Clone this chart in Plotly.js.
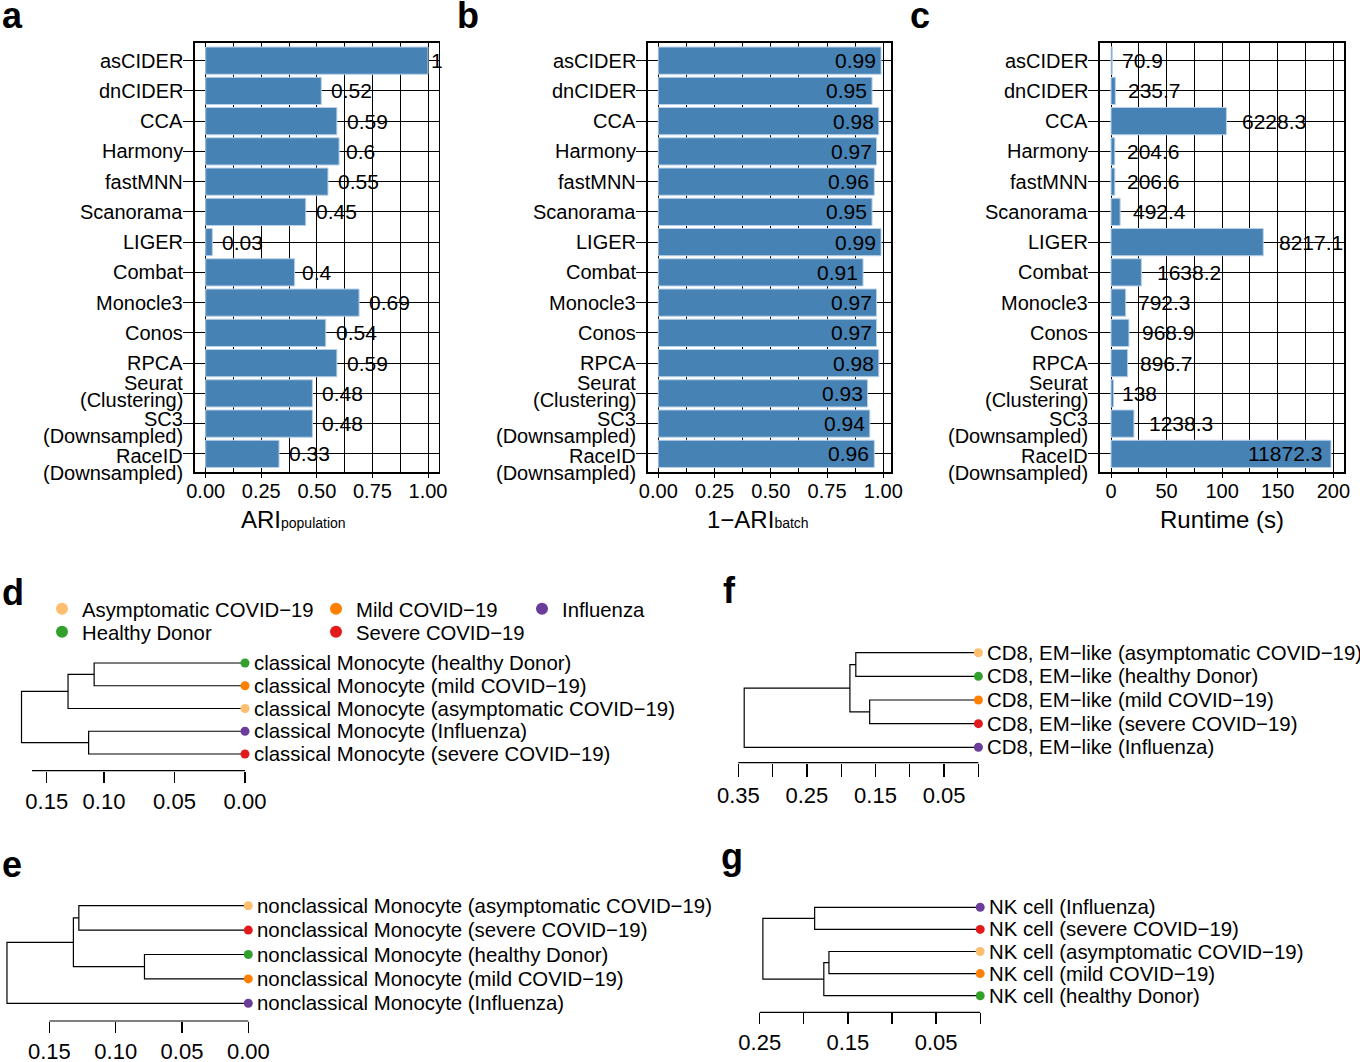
<!DOCTYPE html>
<html>
<head>
<meta charset="utf-8">
<script src="https://cdn.plot.ly/plotly-3.0.1.min.js"></script>
<style>html,body{margin:0;padding:0;background:#fff}#chart{width:1360px;height:1062px}</style>
</head>
<body>
<div id="chart"></div>
<script>
// ---------------- DATA ----------------
const methods = ['asCIDER','dnCIDER','CCA','Harmony','fastMNN','Scanorama','LIGER','Combat','Monocle3','Conos','RPCA','Seurat\n(Clustering)','SC3\n(Downsampled)','RaceID\n(Downsampled)'];
const ariPopulation = [1, 0.52, 0.59, 0.6, 0.55, 0.45, 0.03, 0.4, 0.69, 0.54, 0.59, 0.48, 0.48, 0.33];
const ariBatchComplement = [0.99, 0.95, 0.98, 0.97, 0.96, 0.95, 0.99, 0.91, 0.97, 0.97, 0.98, 0.93, 0.94, 0.96];
const runtimeLabels = ['70.9','235.7','6228.3','204.6','206.6','492.4','8217.1','1638.2','792.3','968.9','896.7','138','1238.3','11872.3'];
const runtimeBars = [1.18, 3.93, 103.81, 3.41, 3.44, 8.21, 136.95, 27.30, 13.21, 16.15, 14.95, 2.30, 20.64, 197.87];

const groups = ['Asymptomatic COVID\u221219','Mild COVID\u221219','Influenza','Healthy Donor','Severe COVID\u221219'];
const groupColors = ['#FDBF6F','#FF7F00','#6A3D9A','#33A02C','#E31A1C'];

// panel d
const dLeaves = ['classical Monocyte (healthy Donor)','classical Monocyte (mild COVID\u221219)','classical Monocyte (asymptomatic COVID\u221219)','classical Monocyte (Influenza)','classical Monocyte (severe COVID\u221219)'];
const dGroups = [3, 1, 0, 2, 4];
const dMerges = [['L0','L1',0.107],['M0','L2',0.1255],['L3','L4',0.1109],['M1','M2',0.1585]];
const dTicks = [0.1406, 0.10, 0.05, 0.00];
const dTickText = ['0.15','0.10','0.05','0.00'];
// panel e
const eLeaves = ['nonclassical Monocyte (asymptomatic COVID\u221219)','nonclassical Monocyte (severe COVID\u221219)','nonclassical Monocyte (healthy Donor)','nonclassical Monocyte (mild COVID\u221219)','nonclassical Monocyte (Influenza)'];
const eGroups = [0, 4, 3, 1, 2];
const eMerges = [['L0','L1',0.1278],['L2','L3',0.0783],['M0','M1',0.1319],['M2','L4',0.182]];
const eTicks = [0.15, 0.10, 0.05, 0.00];
const eTickText = ['0.15','0.10','0.05','0.00'];
// panel f
const fLeaves = ['CD8, EM\u2212like (asymptomatic COVID\u221219)','CD8, EM\u2212like (healthy Donor)','CD8, EM\u2212like (mild COVID\u221219)','CD8, EM\u2212like (severe COVID\u221219)','CD8, EM\u2212like (Influenza)'];
const fGroups = [0, 3, 1, 4, 2];
const fMerges = [['L0','L1',0.1787],['L2','L3',0.1585],['M0','M1',0.1873],['M2','L4',0.3414]];
const fTicks = [0.35, 0.30, 0.25, 0.20, 0.15, 0.10, 0.05, 0.00];
const fTickText = ['0.35','','0.25','','0.15','','0.05',''];
// panel g
const gLeaves = ['NK cell (Influenza)','NK cell (severe COVID\u221219)','NK cell (asymptomatic COVID\u221219)','NK cell (mild COVID\u221219)','NK cell (healthy Donor)'];
const gGroups = [2, 4, 0, 1, 3];
const gMerges = [['L0','L1',0.1877],['L2','L3',0.1715],['M1','L4',0.1773],['M0','M2',0.2464]];
const gTicks = [0.25, 0.20, 0.15, 0.10, 0.05, 0.00];
const gTickText = ['0.25','','0.15','','0.05',''];

// ---------------- STYLE / LAYOUT ----------------
const FONT = 'Liberation Sans, Arial, Helvetica, sans-serif';
const W = 1360, H = 1062;
const px = v => v / W;
const py = v => 1 - v / H;
const BAR = '#4682B4';

const methodKeys = methods.map(s => s.replace('\n', ' '));
const labelNudge = [0,0,0,0,0,0,0,0,0,0,0,-2,4,10.5];
const barTop = 42.5, barBottom = 472;

const barPanels = [
  {k:'', L:195, R:438.5, zero:205.7, unit:222.3, dtick:0.25, minor:0.125, fmt:'.2f', vals: ariPopulation, labels: ariPopulation.map(String), mode: () => 'out',
   title:'ARI<span style="font-size:14px">population</span>', titleX:239},
  {k:'2', L:647.7, R:891, zero:658.3, unit:225, dtick:0.25, minor:0.125, fmt:'.2f', vals: ariBatchComplement, labels: ariBatchComplement.map(v=>v.toFixed(2)), mode: () => 'in',
   title:'1\u2212ARI<span style="font-size:14px">batch</span>', titleX:705},
  {k:'3', L:1100, R:1344, zero:1111, unit:1.1117, dtick:50, minor:25, fmt:'d', vals: runtimeBars, labels: runtimeLabels,
   mode: (v) => v === Math.max(...runtimeBars) ? 'in' : 'out', title:'Runtime (s)', titleX:1158}
];

const dendros = [
  {k:'4', leaves:dLeaves, grp:dGroups, merges:dMerges, ticks:dTicks, tickText:dTickText, extent:0.1511, zero:245, unit:1410, L:8, R:252, leaf0:663, sp:22.75, axisY:770.7, top:645, ticklen:11},
  {k:'5', leaves:eLeaves, grp:eGroups, merges:eMerges, ticks:eTicks, tickText:eTickText, extent:0.15, zero:248.3, unit:1326, L:2, R:255, leaf0:905.7, sp:24.4, axisY:1021, top:885, ticklen:11},
  {k:'6', leaves:fLeaves, grp:fGroups, merges:fMerges, ticks:fTicks, tickText:fTickText, extent:0.35, zero:978.4, unit:686, L:730, R:985, leaf0:652.7, sp:23.65, axisY:762.7, top:635, ticklen:13},
  {k:'7', leaves:gLeaves, grp:gGroups, merges:gMerges, ticks:gTicks, tickText:gTickText, extent:0.25, zero:980.2, unit:882, L:750, R:985, leaf0:907.3, sp:22.1, axisY:1012.3, top:890, ticklen:10.5}
];

// legend positions (dot centre px) per group
const legendPos = [[63,609],[337,609],[543,609],[63,632],[337,632]];
const legendIds = ['legend','legend2','legend3','legend4','legend5'];

const panelLetters = [['a',0,15],['b',455,15],['c',908,15],['d',0,592],['e',0,864],['f',721,590],['g',719,856]];

// ---------------- BUILD ----------------
const traces = [];
const annotations = [];
const shapes = [];
const layout = {
  width: W, height: H, margin: {l:0, r:0, t:0, b:0}, autosize: false,
  paper_bgcolor: '#fff', plot_bgcolor: 'rgba(0,0,0,0)',
  font: {family: FONT, color: '#000', size: 20},
  showlegend: true, bargap: 0
};

function textWidth(s, size) {
  let w = 0;
  for (const c of s) w += (c === '.' ? 0.278 : 0.556);
  return w * size;
}

barPanels.forEach(p => {
  const xa = 'xaxis' + p.k, ya = 'yaxis' + p.k;
  const xr = 'x' + p.k, yr = 'y' + p.k;
  layout[xa] = {
    domain: [px(p.L), px(p.R)], anchor: yr,
    range: [(p.L - p.zero) / p.unit, (p.R - p.zero) / p.unit],
    tick0: 0, dtick: p.dtick, tickformat: p.fmt, ticks: 'outside', ticklen: 4, tickcolor: '#000', tickwidth: 1,
    ticklabelstandoff: -4,
    tickfont: {size: 20, family: FONT, color: '#000'},
    showgrid: true, gridcolor: '#000', gridwidth: 1,
    minor: {dtick: p.minor, tick0: 0, showgrid: true, gridcolor: '#000', gridwidth: 1, ticks: ''},
    zeroline: false, showline: true, mirror: true, linecolor: '#000', linewidth: 1.6, fixedrange: true
  };
  layout[ya] = {
    domain: [py(barBottom), py(barTop)], anchor: xr, type: 'category',
    categoryorder: 'array', categoryarray: methodKeys, range: [13.6, -0.6],
    showgrid: true, gridcolor: '#000', gridwidth: 1, ticks: 'outside', ticklen: 10, tickcolor: '#000',
    showticklabels: false, zeroline: false, showline: true, mirror: true, linecolor: '#000', linewidth: 1.6, fixedrange: true
  };
  traces.push({
    type: 'bar', orientation: 'h', x: p.vals, y: methodKeys, xaxis: xr, yaxis: yr, width: 0.9,
    marker: {color: BAR, line: {color: '#b9d1e8', width: 1}}, hoverinfo: 'skip', showlegend: false
  });
  // value labels
  p.vals.forEach((v, i) => {
    const t = p.labels[i];
    const w = textWidth(t, 21);
    const inside = p.mode(v) === 'in';
    annotations.push({
      xref: xr, yref: yr, x: v, y: methodKeys[i], text: t, showarrow: false,
      xanchor: inside ? 'right' : 'left', yanchor: 'middle',
      xshift: inside ? -(0.12 * w) + 2 : 0.24 * w - 2,
      font: {size: 21, family: FONT, color: '#000'}
    });
  });
  // category labels
  methods.forEach((m, i) => {
    const lines = m.split('\n');
    lines.forEach((ln, j) => {
      const off = (j - (lines.length - 1) / 2) * 16.5 + labelNudge[i];
      annotations.push({
        xref: xr + ' domain', yref: yr, x: 0, y: methodKeys[i], text: ln, showarrow: false,
        xanchor: 'right', yanchor: 'middle', xshift: -10, yshift: -off,
        font: {size: 20, family: FONT, color: '#000'}
      });
    });
  });
  // axis title
  annotations.push({
    xref: 'paper', yref: 'paper', x: px(p.titleX), y: py(519), text: p.title, showarrow: false,
    xanchor: 'left', yanchor: 'middle', font: {size: 24, family: FONT, color: '#000'}
  });
});

function dendroSegments(merges) {
  const nodes = [];
  const xs = [], ys = [];
  const get = id => id[0] === 'L' ? {h: 0, y: +id.slice(1)} : nodes[+id.slice(1)];
  merges.forEach(([a, b, h]) => {
    const A = get(a), B = get(b);
    xs.push(A.h, h, h, B.h, null);
    ys.push(A.y, A.y, B.y, B.y, null);
    nodes.push({h: h, y: (A.y + B.y) / 2});
  });
  return {xs, ys};
}

dendros.forEach((d, di) => {
  const xa = 'xaxis' + d.k, ya = 'yaxis' + d.k;
  const xr = 'x' + d.k, yr = 'y' + d.k;
  layout[xa] = {
    domain: [px(d.L), px(d.R)], anchor: yr,
    range: [(d.zero - d.L) / d.unit, (d.zero - d.R) / d.unit],
    tickmode: 'array', tickvals: d.ticks, ticktext: d.tickText,
    ticks: 'outside', ticklen: d.ticklen, tickcolor: '#000', tickwidth: 1.2,
    tickfont: {size: 22, family: FONT, color: '#000'},
    showgrid: false, zeroline: false, showline: false, fixedrange: true
  };
  layout[ya] = {
    domain: [py(d.axisY), py(d.top)], anchor: xr,
    range: [(d.axisY - d.leaf0) / d.sp, (d.top - d.leaf0) / d.sp],
    visible: false, fixedrange: true
  };
  shapes.push({type: 'line', xref: xr, yref: yr + ' domain', x0: d.extent, x1: 0, y0: 0, y1: 0,
               line: {color: '#000', width: 1.2}});
  const seg = dendroSegments(d.merges);
  traces.push({type: 'scatter', mode: 'lines', x: seg.xs, y: seg.ys, xaxis: xr, yaxis: yr,
               line: {color: '#000', width: 1.2}, hoverinfo: 'skip', showlegend: false, connectgaps: false});
  if (di === 0) {
    d.leaves.forEach((lab, i) => {
      const g = d.grp[i];
      traces.push({type: 'scatter', mode: 'markers', x: [0], y: [i], xaxis: xr, yaxis: yr,
                   marker: {color: groupColors[g], size: 9}, name: groups[g], legend: legendIds[g],
                   showlegend: true, cliponaxis: false, hoverinfo: 'skip'});
    });
  } else {
    traces.push({type: 'scatter', mode: 'markers', x: d.leaves.map(() => 0), y: d.leaves.map((_, i) => i),
                 xaxis: xr, yaxis: yr, marker: {color: d.grp.map(g => groupColors[g]), size: 9},
                 showlegend: false, cliponaxis: false, hoverinfo: 'skip'});
  }
  d.leaves.forEach((lab, i) => {
    annotations.push({xref: xr, yref: yr, x: 0, y: i, text: lab, showarrow: false,
                      xanchor: 'left', yanchor: 'middle', xshift: 7,
                      font: {size: 20.4, family: FONT, color: '#000'}});
  });
});

legendIds.forEach((id, g) => {
  layout[id] = {
    x: px(legendPos[g][0] - 21), y: py(legendPos[g][1]), xanchor: 'left', yanchor: 'middle',
    bgcolor: 'rgba(0,0,0,0)', borderwidth: 0, itemsizing: 'constant',
    font: {size: 20.3, family: FONT, color: '#000'}
  };
});

panelLetters.forEach(([t, x, y]) => {
  annotations.push({xref: 'paper', yref: 'paper', x: px(x), y: py(y), text: '<b>' + t + '</b>', showarrow: false,
                    xanchor: 'left', yanchor: 'middle', font: {size: 36, family: FONT, color: '#000'}});
});

layout.annotations = annotations;
layout.shapes = shapes;

Plotly.newPlot('chart', traces, layout, {displayModeBar: false, staticPlot: true});
</script>
</body>
</html>
